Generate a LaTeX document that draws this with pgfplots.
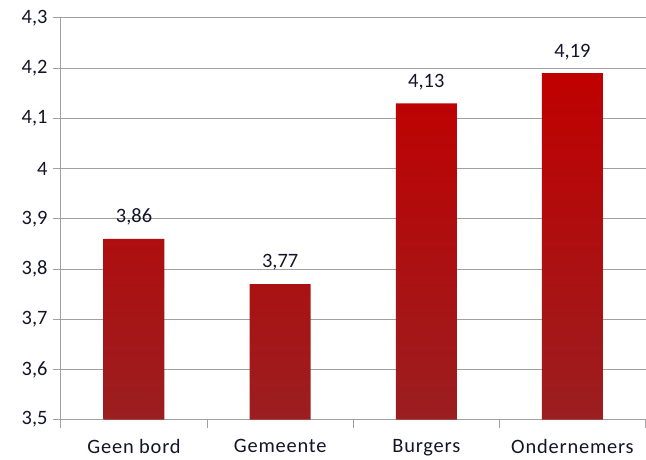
\documentclass[border=0pt]{standalone}
\usepackage{pgfplots}
\pgfplotsset{compat=1.18}
\usepackage{fontspec}
\setmainfont{Carlito}
\newfontfamily\spaced[LetterSpace=4]{Carlito}
\definecolor{gridgray}{RGB}{160,160,160}
\definecolor{bartop}{RGB}{192,0,0}
\definecolor{barbot}{RGB}{155,30,32}
\definecolor{txt}{RGB}{20,20,40}
\begin{document}
\begin{tikzpicture}
\begin{axis}[
  scale only axis,
  width=585bp, height=402bp,
  xmin=-0.5, xmax=3.5,
  ymin=3.5, ymax=4.3,
  ytick={3.5,3.6,...,4.31},
  xtick={0,1,2,3},
  xticklabels={Geen bord,Gemeente,Burgers,Ondernemers},
  minor xtick={-0.5,0.5,1.5,2.5,3.5},
  major x tick style={draw=none},
  minor x tick style={draw=gridgray, line width=1pt},
  y tick style={draw=gridgray, line width=1pt},
  tick align=outside,
  major tick length=8bp,
  minor tick length=8bp,
  axis x line*=bottom,
  axis y line*=left,
  axis line style={draw=gridgray, line width=1pt, -},
  ymajorgrids,
  grid style={draw=gridgray, line width=1pt},
  tick label style={font=\fontsize{20.5}{23}\selectfont, text=txt},
  yticklabel style={xshift=-2bp},
  xticklabel style={yshift=-8bp, font=\spaced\fontsize{20.5}{23}\selectfont},
  /pgf/number format/.cd, use comma, fixed, precision=2, assume math mode=true,
  /pgfplots/.cd,
  ybar, bar width=61bp,
  nodes near coords,
  every node near coord/.append style={font=\fontsize{20.5}{23}\selectfont, text=txt, yshift=10bp},
]
\addplot[draw=none, top color=bartop, bottom color=barbot] coordinates {(0,3.86) (1,3.77) (2,4.13) (3,4.19)};
\end{axis}
\path ([shift={(-61bp,-37bp)}]current axis.south west) rectangle ([shift={(0bp,18bp)}]current axis.north east);
\end{tikzpicture}
\end{document}
